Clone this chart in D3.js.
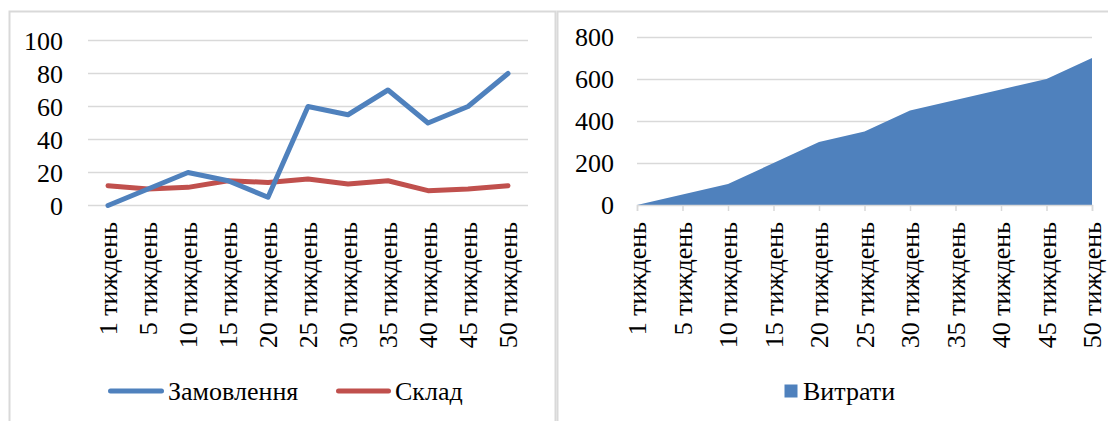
<!DOCTYPE html>
<html>
<head>
<meta charset="utf-8">
<script src="https://cdn.jsdelivr.net/npm/d3@7"></script>
<style>
  html, body { margin: 0; padding: 0; background: #fff; }
  svg { display: block; }
</style>
</head>
<body>
<svg id="chart" width="1108" height="421"></svg>
<script>
// Weekly categories shared by both panels
const weeks = ["1 тиждень", "5 тиждень", "10 тиждень", "15 тиждень", "20 тиждень",
               "25 тиждень", "30 тиждень", "35 тиждень", "40 тиждень", "45 тиждень", "50 тиждень"];

// Left panel: orders and warehouse
const orders = [0, 10, 20, 15, 5, 60, 55, 70, 50, 60, 80];
const stock = [12, 10, 11, 15, 14, 16, 13, 15, 9, 10, 12];
const leftTicks = [0, 20, 40, 60, 80, 100];

// Right panel: expenses
const costs = [0, 50, 100, 200, 300, 350, 450, 500, 550, 600, 700];
const rightTicks = [0, 200, 400, 600, 800];

const seriesNames = ["Замовлення", "Склад"];
const areaName = "Витрати";

const BLUE = "#4F81BD", RED = "#C0504D", GRID = "#D9D9D9";
const FONT = 26, FAMILY = '"Liberation Serif", "Times New Roman", serif';

const svg = d3.select("#chart");
const styleText = sel => sel.attr("font-size", FONT).style("font-family", FAMILY).attr("fill", "#000");

// Panel frames
svg.append("rect").attr("x", 9.5).attr("y", 11.5).attr("width", 546).attr("height", 430)
  .attr("fill", "none").attr("stroke", GRID).attr("stroke-width", 2);
svg.append("rect").attr("x", 557.5).attr("y", 11.5).attr("width", 600).attr("height", 430)
  .attr("fill", "none").attr("stroke", GRID).attr("stroke-width", 2);

// ---------- Left panel: line chart ----------
const xL = d3.scaleBand().domain(weeks).range([88, 528]);
const yL = d3.scaleLinear().domain([0, 100]).range([205.5, 40.5]);
const left = svg.append("g");

left.append("g").selectAll("line").data(leftTicks).join("line")
  .attr("x1", 88).attr("x2", 528)
  .attr("y1", d => yL(d)).attr("y2", d => yL(d))
  .attr("stroke", GRID).attr("stroke-width", 1.5);

const yAxisL = left.append("g").attr("transform", "translate(63,0)")
  .call(d3.axisLeft(yL).tickValues(leftTicks).tickSize(0).tickPadding(0));
yAxisL.select(".domain").remove();
yAxisL.selectAll("text").call(styleText).attr("dy", "0.34em");

const xAxisL = left.append("g").attr("transform", "translate(0,205)")
  .call(d3.axisBottom(xL).tickSize(0).tickPadding(0));
xAxisL.select(".domain").remove();
xAxisL.selectAll("text").call(styleText)
  .attr("text-anchor", "end")
  .attr("transform", "translate(0,17) rotate(-90)")
  .attr("x", 0).attr("y", 0).attr("dy", "0.33em");

const cx = d => xL(d) + xL.bandwidth() / 2;
const lineL = d3.line().x((v, i) => cx(weeks[i])).y(v => yL(v));

left.append("path").datum(stock).attr("d", lineL)
  .attr("fill", "none").attr("stroke", RED).attr("stroke-width", 5)
  .attr("stroke-linejoin", "round").attr("stroke-linecap", "round");
left.append("path").datum(orders).attr("d", lineL)
  .attr("fill", "none").attr("stroke", BLUE).attr("stroke-width", 5)
  .attr("stroke-linejoin", "round").attr("stroke-linecap", "round");

// Legend, left panel
const legL = left.append("g");
[[110.5, 161.5, 168, BLUE, seriesNames[0]], [338.5, 388.5, 395, RED, seriesNames[1]]].forEach(([a, b, t, c, name]) => {
  legL.append("line").attr("x1", a).attr("x2", b).attr("y1", 391).attr("y2", 391)
    .attr("stroke", c).attr("stroke-width", 5).attr("stroke-linecap", "round");
  legL.append("text").attr("x", t).attr("y", 391).attr("dy", "0.34em")
    .call(styleText).text(name);
});

// ---------- Right panel: area chart ----------
const xR = d3.scalePoint().domain(weeks).range([637, 1092]);
const yR = d3.scaleLinear().domain([0, 800]).range([205, 37]);
const right = svg.append("g");

right.append("g").selectAll("line").data(rightTicks.filter(d => d > 0)).join("line")
  .attr("x1", 637).attr("x2", 1092)
  .attr("y1", d => yR(d) + 0.5).attr("y2", d => yR(d) + 0.5)
  .attr("stroke", GRID).attr("stroke-width", 1.5);

const areaR = d3.area().x((v, i) => xR(weeks[i])).y0(yR(0)).y1(v => yR(v));
right.append("path").datum(costs).attr("d", areaR).attr("fill", BLUE);

const xAxisR = right.append("g").attr("transform", "translate(0,205)")
  .call(d3.axisBottom(xR).tickSize(6).tickPadding(0));
xAxisR.select(".domain").attr("stroke", GRID).attr("stroke-width", 1.5);
xAxisR.selectAll(".tick line").attr("stroke", GRID).attr("stroke-width", 1.5);
xAxisR.selectAll("text").call(styleText)
  .attr("text-anchor", "end")
  .attr("transform", "translate(0,17) rotate(-90)")
  .attr("x", 0).attr("y", 0).attr("dy", "0.33em");

const yAxisR = right.append("g").attr("transform", "translate(614,0)")
  .call(d3.axisLeft(yR).tickValues(rightTicks).tickSize(0).tickPadding(0));
yAxisR.select(".domain").remove();
yAxisR.selectAll("text").call(styleText).attr("dy", "0.34em");

// Legend, right panel
right.append("rect").attr("x", 784.5).attr("y", 384.5).attr("width", 13).attr("height", 13).attr("fill", BLUE);
right.append("text").attr("x", 803).attr("y", 391).attr("dy", "0.34em")
  .call(styleText).text(areaName);
</script>
</body>
</html>
